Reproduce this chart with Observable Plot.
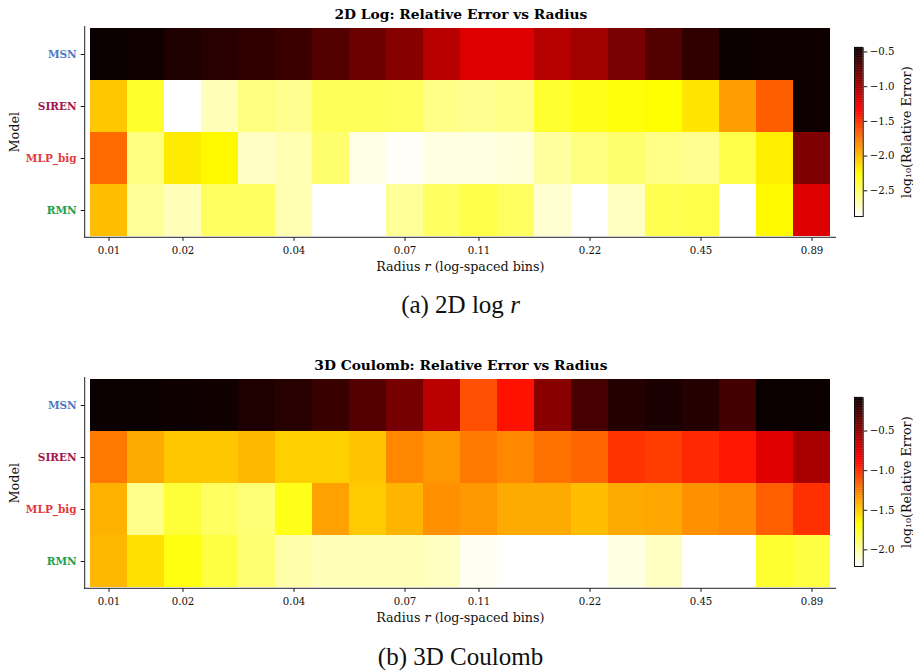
<!DOCTYPE html>
<html><head><meta charset="utf-8">
<script src="https://cdn.jsdelivr.net/npm/d3@7"></script>
<script src="https://cdn.jsdelivr.net/npm/@observablehq/plot@0.6"></script>
<style>
body{margin:0;background:#fff;}
#root{position:relative;width:913px;height:671px;overflow:hidden;font-family:"DejaVu Serif",serif;}
#root > svg, #root > div{position:absolute;}
</style></head><body><div id="root"></div>
<script>
// ---- categories / ticks ----
const models = ["MSN", "SIREN", "MLP_big", "RMN"];
const modelColors = ["#4a7bc2", "#a3174d", "#e23a3a", "#21a04c"];
const bins = d3.range(20);
const xTickBins = [0, 2, 5, 8, 10, 13, 16, 19];
const xTickLabels = ["0.01", "0.02", "0.04", "0.07", "0.11", "0.22", "0.45", "0.89"];

// ---- (a) 2D log: log10(relative error) ----
const log2dMSN   = [-0.44, -0.46, -0.51, -0.547, -0.576, -0.611, -0.70, -0.786, -0.887, -1.07, -1.20, -1.20, -1.06, -0.98, -0.836, -0.70, -0.576, -0.44, -0.45, -0.45];
const log2dSIREN = [-2.05, -2.36, -2.87, -2.70, -2.56, -2.60, -2.47, -2.47, -2.48, -2.58, -2.60, -2.58, -2.37, -2.31, -2.28, -2.25, -2.16, -1.90, -1.67, -0.45];
const log2dMLP   = [-1.71, -2.56, -2.18, -2.23, -2.73, -2.68, -2.52, -2.81, -2.85, -2.80, -2.80, -2.78, -2.64, -2.56, -2.52, -2.58, -2.60, -2.43, -2.19, -0.86];
const log2dRMN   = [-2.02, -2.62, -2.70, -2.49, -2.49, -2.68, -2.87, -2.87, -2.62, -2.49, -2.43, -2.49, -2.76, -2.87, -2.72, -2.45, -2.43, -2.87, -2.23, -1.20];
const log2dDomain = [-2.87, -0.44];
const log2dTicks = [-0.5, -1.0, -1.5, -2.0, -2.5];

// ---- (b) 3D Coulomb: log10(relative error) ----
const coulMSN   = [-0.08, -0.08, -0.09, -0.10, -0.14, -0.17, -0.225, -0.317, -0.42, -0.64, -1.11, -0.91, -0.48, -0.27, -0.16, -0.127, -0.16, -0.26, -0.08, -0.08];
const coulSIREN = [-1.24, -1.40, -1.49, -1.49, -1.44, -1.52, -1.52, -1.48, -1.29, -1.34, -1.24, -1.29, -1.22, -1.18, -1.02, -1.05, -0.985, -0.93, -0.76, -0.58];
const coulMLP   = [-1.42, -1.96, -1.79, -1.875, -1.92, -1.72, -1.37, -1.50, -1.43, -1.32, -1.34, -1.40, -1.40, -1.46, -1.40, -1.39, -1.32, -1.29, -1.16, -1.01];
const coulRMN   = [-1.44, -1.57, -1.70, -1.81, -1.91, -2.03, -2.06, -2.06, -2.06, -2.08, -2.18, -2.21, -2.21, -2.21, -2.15, -2.08, -2.21, -2.21, -1.77, -1.81];
const coulDomain = [-2.21, -0.08];
const coulTicks = [-0.5, -1.0, -1.5, -2.0];

const root = document.getElementById("root");
const FONT = "DejaVu Serif";
const fmt = d => d.toFixed(1).replace("-", "\u2212");

// matplotlib "hot_r" as a piecewise linear scale
function hotR([vmin, vmax]) {
  const s = vmax - vmin;
  return {type: "linear", domain: [vmin, vmin + 0.254 * s, vmin + 0.635 * s, vmax],
          range: ["#ffffff", "#ffff00", "#ff0000", "#0b0000"], interpolate: "rgb", clamp: true};
}

function heatmap(title, rows, domain, top) {
  const data = [];
  models.forEach((m, i) => rows[i].forEach((v, j) => data.push({model: m, bin: bins[j], value: v})));
  const chart = Plot.plot({
    width: 913, height: 280,
    marginLeft: 84.7, marginRight: 77, marginTop: 26, marginBottom: 42.7,
    style: {fontFamily: FONT, fontSize: "10px", color: "#111", background: "transparent"},
    x: {type: "band", domain: bins, padding: 0, axis: null},
    y: {type: "band", domain: models, padding: 0, axis: null},
    color: hotR(domain),
    marks: [
      Plot.cell(data, {x: "bin", y: "model", fill: "value", inset: 0, shapeRendering: "crispEdges"}),
      Plot.axisX(xTickBins, {tickSize: 3.5, tickPadding: 5.5, label: null, fontSize: 10.2,
        tickFormat: d => xTickLabels[xTickBins.indexOf(d)]}),
      ...models.map((m, i) => Plot.axisY([m], {tickSize: 4, tickPadding: 4.5, label: null,
        fill: modelColors[i], fontWeight: "bold", fontSize: 10.5})),
      Plot.text([title], {frameAnchor: "top", dy: -11.5, lineAnchor: "middle", fontWeight: "bold", fontSize: 13.8, fill: "#000"}),
      Plot.text(["Model"], {frameAnchor: "left", dx: -70, rotate: -90, textAnchor: "middle", lineAnchor: "middle", fontSize: 12.8, fill: "#111"})
    ]
  });
  const [x0, x1] = chart.scale("x").range;
  const [y0, y1] = chart.scale("y").range;
  const svg = d3.select(chart);
  svg.append("line").attr("x1", x0).attr("x2", x0).attr("y1", y0).attr("y2", y1 + 0.5).attr("stroke", "#222").attr("stroke-width", 1);
  svg.append("line").attr("x1", x0 - 0.5).attr("x2", x1).attr("y1", y1).attr("y2", y1).attr("stroke", "#222").attr("stroke-width", 1);
  const lab = svg.append("text").attr("x", (x0 + x1) / 2).attr("y", y1 + 33.5).attr("text-anchor", "middle")
    .attr("font-family", FONT).attr("font-size", 12.7).attr("fill", "#111");
  lab.append("tspan").text("Radius ");
  lab.append("tspan").attr("font-style", "italic").text("r");
  lab.append("tspan").text(" (log-spaced bins)");
  chart.style.left = "0px";
  chart.style.top = top + "px";
  root.appendChild(chart);
}

function colorbar(domain, ticks, top) {
  const [vmin, vmax] = domain;
  const n = 240;
  const step = (vmax - vmin) / n;
  const steps = d3.range(n).map(i => vmin + step * i);
  const chart = Plot.plot({
    width: 73, height: 210, marginLeft: 14, marginRight: 50.3, marginTop: 17.3, marginBottom: 24,
    style: {fontFamily: FONT, fontSize: "10px", color: "#111", background: "transparent"},
    x: {domain: [0, 1], axis: null},
    y: {domain: [vmin, vmax], axis: null},
    color: hotR(domain),
    marks: [
      Plot.rect(steps, {x1: 0, x2: 1, y1: d => d, y2: d => d + step * 1.6, fill: d => d + step / 2}),
      Plot.frame({stroke: "#111", strokeWidth: 1}),
      Plot.axisY(ticks, {anchor: "right", tickSize: 3.5, tickPadding: 3, label: null, fontSize: 10.2, tickFormat: fmt}),
      Plot.text(["log\u2081\u2080(Relative Error)"], {frameAnchor: "right", dx: 43.5, rotate: -90, textAnchor: "middle", lineAnchor: "middle", fontSize: 12.7, fill: "#111"})
    ]
  });
  chart.style.left = "840px";
  chart.style.top = top + "px";
  root.appendChild(chart);
}

heatmap("2D Log: Relative Error vs Radius", [log2dMSN, log2dSIREN, log2dMLP, log2dRMN], log2dDomain, 0);
colorbar(log2dDomain, log2dTicks, 30);
heatmap("3D Coulomb: Relative Error vs Radius", [coulMSN, coulSIREN, coulMLP, coulRMN], coulDomain, 351);
colorbar(coulDomain, coulTicks, 380.4);

// captions
const cap = d3.create("svg").attr("width", 913).attr("height", 671).style("left", "0px").style("top", "0px").style("pointer-events", "none");
const capStyle = t => t.attr("text-anchor", "middle").attr("font-family", "Liberation Serif").attr("font-size", 25).attr("fill", "#111");
const ca = capStyle(cap.append("text").attr("x", 460.5).attr("y", 313));
ca.append("tspan").text("(a) 2D log ");
ca.append("tspan").attr("font-style", "italic").text("r");
const cb = capStyle(cap.append("text").attr("x", 460.5).attr("y", 665));
cb.text("(b) 3D Coulomb");
root.appendChild(cap.node());
</script>
</body></html>
